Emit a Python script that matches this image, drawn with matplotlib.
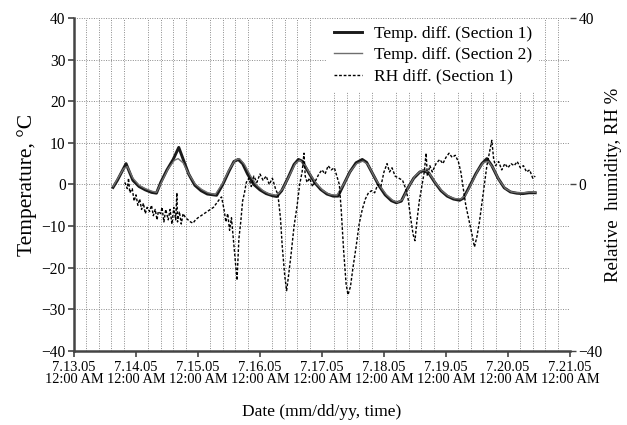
'''
Temperature and relative humidity differences, Sections 1 and 2,
July 13-21 2005.
'''

import matplotlib
matplotlib.use("Agg")
import matplotlib.pyplot as plt


#######################################################
### 1. Data (days after 7.13.05 12:00 AM)

tick_labels = [
    "7.13.05\n12:00 AM",
    "7.14.05\n12:00 AM",
    "7.15.05\n12:00 AM",
    "7.16.05\n12:00 AM",
    "7.17.05\n12:00 AM",
    "7.18.05\n12:00 AM",
    "7.19.05\n12:00 AM",
    "7.20.05\n12:00 AM",
    "7.21.05\n12:00 AM",
]

temp1_day = [
    0.63, 0.70, 0.77, 0.84, 0.90, 0.95, 1.05, 1.15, 1.25, 1.33,
    1.40, 1.50, 1.60, 1.69, 1.75, 1.85, 1.95, 2.05, 2.15, 2.30,
    2.40, 2.50, 2.58, 2.65, 2.72, 2.80, 2.90, 3.00, 3.10, 3.20,
    3.27, 3.35, 3.45, 3.55, 3.62, 3.68, 3.78, 3.88, 3.98, 4.08,
    4.18, 4.26, 4.35, 4.45, 4.55, 4.65, 4.72, 4.82, 4.92, 5.02,
    5.12, 5.20, 5.28, 5.38, 5.48, 5.58, 5.64, 5.72, 5.82, 5.92,
    6.02, 6.12, 6.22, 6.28, 6.38, 6.48, 6.58, 6.66, 6.74, 6.84,
    6.94, 7.04, 7.14, 7.24, 7.34, 7.44,
]
temp1_val = [
    -0.7, 1.0, 3.0, 5.0, 2.8, 1.0, -0.5, -1.3, -1.9, -2.1,
    0.5, 3.5, 6.0, 8.9, 6.5, 2.5, -0.2, -1.5, -2.3, -2.6,
    0.0, 3.2, 5.5, 6.0, 5.0, 2.5, 0.0, -1.3, -2.2, -2.7,
    -2.9, -1.5, 1.5, 4.8, 6.0, 5.6, 3.0, 0.5, -1.2, -2.3,
    -2.8, -2.8, 0.0, 3.0, 5.2, 6.0, 5.3, 2.5, -0.3, -2.5,
    -3.9, -4.4, -4.0, -1.0, 1.5, 3.0, 3.3, 2.8, 0.5, -1.5,
    -2.8, -3.5, -3.8, -3.3, -0.5, 2.5, 5.0, 6.2, 4.5, 1.5,
    -0.8, -1.8, -2.1, -2.2, -2.0, -2.0,
]

temp2_day = [
    0.63, 0.72, 0.80, 0.86, 0.95, 1.05, 1.15, 1.25, 1.33, 1.42,
    1.52, 1.62, 1.68, 1.76, 1.86, 1.96, 2.06, 2.16, 2.28, 2.40,
    2.50, 2.60, 2.67, 2.75, 2.85, 2.95, 3.05, 3.15, 3.27, 3.37,
    3.47, 3.57, 3.64, 3.72, 3.82, 3.92, 4.02, 4.12, 4.24, 4.36,
    4.46, 4.56, 4.66, 4.74, 4.84, 4.94, 5.04, 5.14, 5.22, 5.30,
    5.40, 5.50, 5.60, 5.66, 5.74, 5.84, 5.94, 6.04, 6.14, 6.24,
    6.32, 6.42, 6.52, 6.60, 6.68, 6.76, 6.86, 6.96, 7.06, 7.16,
    7.26, 7.36, 7.44,
]
temp2_val = [
    -0.5, 1.8, 3.8, 4.3, 1.5, -0.2, -1.0, -1.6, -1.9, 0.8,
    3.8, 5.8, 6.2, 5.2, 2.3, 0.0, -1.2, -2.0, -2.4, 0.3,
    3.5, 5.8, 6.2, 4.8, 2.0, -0.2, -1.5, -2.3, -2.6, -1.0,
    2.0, 5.0, 5.8, 4.8, 2.2, 0.0, -1.5, -2.4, -2.6, 0.3,
    3.2, 5.0, 5.6, 4.8, 2.0, -0.5, -2.5, -3.8, -4.3, -3.6,
    -0.5, 2.0, 3.3, 3.5, 2.5, 0.2, -1.6, -2.8, -3.4, -3.5,
    -2.5, 0.5, 3.5, 5.2, 5.6, 4.0, 1.0, -1.0, -1.8, -2.0,
    -2.0, -1.8, -1.9,
]

rh_day = [
    0.82, 0.86, 0.88, 0.90, 0.94, 0.97, 1.00, 1.03, 1.06, 1.09,
    1.12, 1.15, 1.18, 1.22, 1.25, 1.28, 1.31, 1.34, 1.36, 1.40,
    1.42, 1.45, 1.48, 1.52, 1.55, 1.58, 1.61, 1.64, 1.66, 1.67,
    1.70, 1.73, 1.76, 1.80, 1.84, 1.88, 1.92, 1.96, 2.00, 2.05,
    2.10, 2.15, 2.20, 2.25, 2.30, 2.35, 2.38, 2.42, 2.45, 2.48,
    2.51, 2.54, 2.57, 2.60, 2.63, 2.66, 2.69, 2.72, 2.75, 2.78,
    2.82, 2.86, 2.90, 2.95, 3.00, 3.05, 3.10, 3.15, 3.20, 3.25,
    3.29, 3.33, 3.36, 3.40, 3.43, 3.46, 3.50, 3.55, 3.60, 3.64,
    3.68, 3.71, 3.73, 3.76, 3.80, 3.85, 3.90, 3.95, 4.00, 4.05,
    4.10, 4.15, 4.20, 4.24, 4.28, 4.31, 4.35, 4.39, 4.42, 4.46,
    4.50, 4.55, 4.60, 4.65, 4.70, 4.75, 4.80, 4.85, 4.90, 4.95,
    5.00, 5.05, 5.09, 5.13, 5.18, 5.24, 5.30, 5.35, 5.39, 5.43,
    5.47, 5.50, 5.53, 5.57, 5.61, 5.65, 5.68, 5.70, 5.74, 5.78,
    5.84, 5.90, 5.95, 6.00, 6.05, 6.10, 6.15, 6.20, 6.24, 6.28,
    6.32, 6.37, 6.42, 6.46, 6.50, 6.54, 6.58, 6.62, 6.66, 6.70,
    6.74, 6.77, 6.80, 6.85, 6.90, 6.95, 7.00, 7.05, 7.10, 7.15,
    7.20, 7.25, 7.30, 7.35, 7.40, 7.44,
]
rh_val = [
    0.5, -1.0, 1.5, -2.0, -1.0, -4.0, -2.5, -5.0, -3.5, -6.0,
    -4.5, -7.0, -5.5, -6.5, -5.0, -7.5, -6.0, -8.5, -6.5, -7.0,
    -5.5, -9.0, -6.0, -8.5, -6.0, -9.5, -5.5, -8.5, -2.0, -9.0,
    -6.5, -9.5, -7.0, -8.0, -8.5, -9.0, -9.3, -8.5, -8.0, -7.5,
    -7.0, -6.5, -6.0, -5.5, -4.5, -3.5, -3.0, -6.0, -9.0, -7.0,
    -11.0, -8.0, -13.0, -18.0, -23.0, -13.0, -9.0, -4.0, -2.0, 0.5,
    1.5, -0.5, 2.0, 0.5, 2.5, 1.0, 2.0, 0.0, 1.5, -1.0,
    -2.5, -8.0, -15.0, -22.0, -25.5, -22.0, -17.0, -10.0, -5.0, 0.0,
    3.0, 7.5, 2.0, 0.5, 1.5, -0.5, 1.0, 2.5, 3.5, 2.5,
    4.5, 3.5, 4.0, 2.0, 0.0, -6.0, -16.0, -24.0, -26.5, -24.5,
    -20.0, -15.0, -9.5, -6.0, -3.5, -2.0, -1.5, -2.0, 0.0, -0.5,
    3.0, 5.0, 3.0, 4.0, 2.0, 1.5, 1.0, -1.0, -3.5, -8.0,
    -12.0, -13.5, -9.0, -4.0, -0.5, 3.0, 7.5, 2.0, 4.5, 3.0,
    5.0, 6.0, 5.0, 6.5, 7.5, 6.5, 7.0, 5.5, 3.0, -1.0,
    -5.0, -8.5, -12.0, -15.0, -12.5, -9.0, -4.5, 0.0, 4.5, 7.5,
    10.6, 6.0, 4.5, 5.5, 3.5, 5.0, 4.0, 5.0, 4.5, 5.5,
    4.0, 4.5, 3.0, 3.5, 1.5, 2.0,
]


#######################################################
### 2. Plot

def plot_differences():

    plt.rcParams["font.family"] = ["Liberation Serif", "DejaVu Serif"]

    fig, ax = plt.subplots(figsize=(6.27, 4.25), dpi=100)
    fig.subplots_adjust(left=0.118, right=0.909, bottom=0.174, top=0.958)

    ax2 = ax.twinx()

    line1, = ax.plot(
        temp1_day, temp1_val,
        color="#1a1a1a", linewidth=2.1,
        label="Temp. diff. (Section 1)", zorder=3
    )
    line2, = ax.plot(
        temp2_day, temp2_val,
        color="#6e6e6e", linewidth=1.0,
        label="Temp. diff. (Section 2)", zorder=3
    )
    line3, = ax2.plot(
        rh_day, rh_val,
        color="black", linewidth=1.0, linestyle=(0, (2, 1.3)),
        label="RH diff. (Section 1)"
    )

    # left axis
    ax.set_xlim(0, 8)
    ax.set_ylim(-40, 40)
    ax.set_yticks(range(-40, 41, 10))
    ax.set_xticks(range(9))
    ax.set_xticklabels(tick_labels, linespacing=0.9)
    ax.set_xticks([i * 0.2 for i in range(41)], minor=True)
    ax.tick_params(axis="x", which="minor", length=0)
    ax.tick_params(axis="both", which="major",
                   direction="out", length=4, width=1.2, color="#444444")
    ax.tick_params(axis="x", which="major", labelsize=10.4, pad=3)
    ax.tick_params(axis="y", which="major", labelsize=11.2, pad=2)

    ax.grid(True, which="minor", axis="x", color="#8a8a8a",
            linestyle=(0, (1, 1.5)), linewidth=0.7)
    ax.grid(True, which="major", axis="y", color="#8a8a8a",
            linestyle=(0, (1, 1.5)), linewidth=0.7)
    ax.set_axisbelow(True)

    for side in ["top", "right"]:
        ax.spines[side].set_visible(False)
    for side in ["left", "bottom"]:
        ax.spines[side].set_color("#444444")
        ax.spines[side].set_linewidth(1.8)

    ax.set_ylabel("Temperature, \u00b0C", fontsize=15.5, labelpad=3)
    ax.set_xlabel("Date (mm/dd/yy, time)", fontsize=12.5, labelpad=13)

    # right axis
    ax2.set_ylim(-40, 40)
    ax2.set_yticks([-40, 0, 40])
    ax2.tick_params(axis="y", labelsize=11.2, direction="out",
                    length=4, width=1.0, color="#444444", pad=2)
    for side in ["top", "right", "left", "bottom"]:
        ax2.spines[side].set_visible(False)
    ax2.set_ylabel("Relative  humidity, RH %", fontsize=13.5, labelpad=2)

    leg = ax2.legend(
        handles=[line1, line2, line3],
        loc="upper right",
        bbox_to_anchor=(0.938, 0.997),
        fontsize=12.5,
        frameon=True,
        fancybox=False,
        framealpha=1.0,
        facecolor="white",
        edgecolor="none",
        handlelength=1.6,
        handletextpad=0.7,
        labelspacing=0.3,
        borderaxespad=0.0,
        borderpad=0.4,
    )
    leg.set_zorder(10)

    plt.savefig("out.png", dpi=100)


#######################################################
### MAIN

if __name__ == "__main__":

    plot_differences()
